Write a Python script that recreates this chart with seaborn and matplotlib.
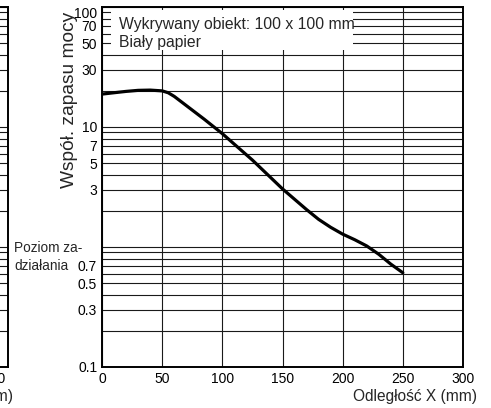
import matplotlib.pyplot as plt
import matplotlib.transforms as mtransforms
import pandas as pd
import seaborn as sns
from matplotlib.patches import Rectangle

# curve (distance in mm, excess gain ratio)
distance_mm = [0, 10, 20, 30, 40, 50, 55, 60, 70, 85, 100, 125, 150,
               160, 170, 180, 190, 200, 210, 220, 230, 240, 250]
excess_gain = [18.8, 19.3, 19.8, 20.2, 20.3, 20.0, 19.3, 18.0, 15.1, 11.6, 8.8, 5.3, 3.05,
               2.5, 2.05, 1.70, 1.46, 1.28, 1.15, 1.02, 0.87, 0.72, 0.61]

x_ticks = [0, 50, 100, 150, 200, 250, 300]
y_grid = [0.1, 0.2, 0.3, 0.4, 0.5, 0.6, 0.7, 0.8, 0.9,
          1, 2, 3, 4, 5, 6, 7, 8, 9,
          10, 20, 30, 40, 50, 60, 70, 80, 90, 100]
y_labels = ["0.1", "", "0.3", "", "0.5", "", "0.7", "", "",
            "", "", "3", "", "5", "", "7", "", "",
            "10", "", "30", "", "50", "", "70", "", "", "100"]

title_lines = ["Wykrywany obiekt: 100 x 100 mm", "Biały papier"]
y_title = "Współ. zapasu mocy"
x_title = "Odległość X (mm)"
level_lines = ["Poziom za-", "działania"]

W, H = 491, 408
AX_L, AX_R, AX_B, AX_T = 102, 463, 367, 7


def style_axes(ax):
    ax.set_yscale("log")
    ax.set_xlim(0, 300)
    ax.set_ylim(0.1, 100)
    ax.set_xticks(x_ticks)
    ax.set_xticklabels([str(t) for t in x_ticks])
    ax.set_yticks(y_grid)
    ax.set_yticklabels(y_labels)
    ax.minorticks_off()
    ax.grid(True, which="major", color="#1a1a1a", linewidth=0.8)
    ax.tick_params(length=0, pad=3.5, labelsize=10, colors="black")
    for side in ax.spines.values():
        side.set_visible(True)
        side.set_color("black")
        side.set_linewidth(1.4)
    ax.set_ylabel("")


def main():
    sns.set_theme(style="white")
    plt.rcParams["font.family"] = ["Liberation Sans", "DejaVu Sans"]

    fig = plt.figure(figsize=(W / 100, H / 100), dpi=100)
    width = (AX_R - AX_L) / W
    height = (AX_B - AX_T) / H
    bottom = 1 - AX_B / H

    # neighbouring chart, cut off at the left edge of the picture
    ax_left = fig.add_axes([(8 - (AX_R - AX_L)) / W, bottom, width, height])
    style_axes(ax_left)
    ax_left.set_yticklabels([])
    ax_left.set_xticklabels([""] * (len(x_ticks) - 1) + [str(x_ticks[-1])])
    shift = mtransforms.ScaledTranslation(-0.135, 0, fig.dpi_scale_trans)
    for lab in ax_left.get_xticklabels():
        lab.set_transform(lab.get_transform() + shift)
    ax_left.set_xlabel(x_title, fontsize=11.2)
    ax_left.xaxis.set_label_coords(1.014, -0.083)
    ax_left.xaxis.label.set_ha("right")
    ax_left.xaxis.label.set_va("center")

    ax = fig.add_axes([AX_L / W, bottom, width, height])
    style_axes(ax)
    df = pd.DataFrame({"x": distance_mm, "y": excess_gain})
    sns.lineplot(data=df, x="x", y="y", ax=ax, color="black",
                 linewidth=2.3, sort=False, zorder=3)
    ax.set_ylabel("")
    ax.set_xlabel(x_title, fontsize=11.2)
    ax.xaxis.set_label_coords(1.039, -0.083)
    ax.xaxis.label.set_ha("right")
    ax.xaxis.label.set_va("center")

    for lab in ax.get_yticklabels():
        if lab.get_text() == "100":
            lab.set_va("top")

    # white panel behind the object description
    x0 = (111 - AX_L) / (AX_R - AX_L)
    x1 = (353 - AX_L) / (AX_R - AX_L)
    y0 = (AX_B - 50) / (AX_B - AX_T)
    y1 = (AX_B - 10) / (AX_B - AX_T)
    ax.add_patch(Rectangle((x0, y0), x1 - x0, y1 - y0, transform=ax.transAxes,
                           facecolor="white", edgecolor="none", zorder=1))
    tx = (119 - AX_L) / (AX_R - AX_L)
    for line, py in zip(title_lines, [24, 43]):
        ax.text(tx, (AX_B - py) / (AX_B - AX_T), line, transform=ax.transAxes,
                ha="left", va="center", fontsize=11.3, zorder=4)

    fig.text(69 / W, 1 - 100 / H, y_title, rotation=90, ha="center",
             va="center", fontsize=13.8)
    for line, py in zip(level_lines, [248, 266]):
        fig.text(14 / W, 1 - py / H, line, ha="left", va="center", fontsize=9.8)

    fig.savefig("out.png", dpi=100)
    plt.close(fig)


if __name__ == "__main__":
    main()
